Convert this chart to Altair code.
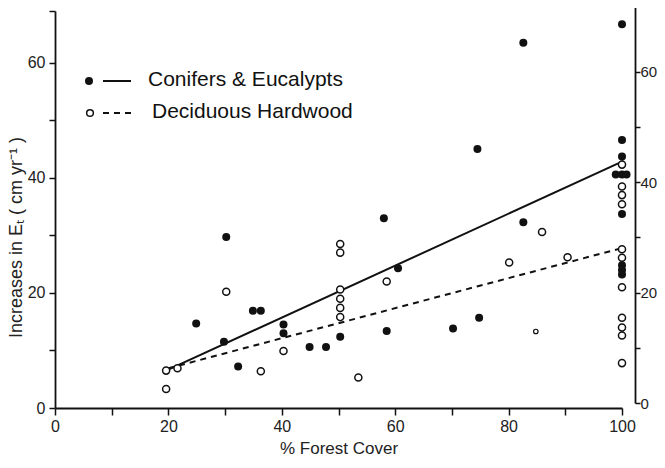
import altair as alt
import pandas as pd

# Conifers & Eucalypts (filled circles)
con_x = [24.9, 29.8, 30.2, 32.3, 34.9, 36.3, 40.3, 40.3, 44.9, 47.8, 50.3, 58.0, 58.5, 60.5,
         70.2, 74.5, 74.8, 82.6, 82.6, 100, 100, 100, 98.9, 100, 100.8, 100, 100, 100, 100]
con_y = [14.7, 11.5, 29.7, 7.2, 16.9, 16.9, 14.5, 13.0, 10.6, 10.6, 12.4, 33.0, 13.4, 24.3,
         13.8, 45.0, 15.7, 32.3, 63.5, 66.7, 46.6, 43.7, 40.6, 40.6, 40.6, 33.7, 24.8, 24.0, 23.2]

# Deciduous Hardwood (open circles)
hw_x = [19.6, 19.6, 21.6, 30.2, 36.3, 40.3, 50.3, 50.3, 50.3, 50.3, 50.3, 50.3, 53.5, 58.5,
        80.1, 85.9, 90.4, 100, 100, 100, 100, 100, 100, 100, 100, 100, 100, 100]
hw_y = [3.3, 6.5, 6.9, 20.2, 6.4, 9.9, 28.5, 27.0, 20.6, 19.0, 17.4, 15.8, 5.3, 22.0,
        25.3, 30.6, 26.2, 42.3, 38.5, 37.0, 35.4, 27.6, 26.1, 21.0, 15.7, 14.0, 12.6, 7.8]
hw_small_x = [84.8]
hw_small_y = [13.3]

# fitted lines (end points)
con_line_x = [19.6, 100.2]
con_line_y = [6.5, 42.9]
hw_line_x = [20.0, 100.0]
hw_line_y = [6.9, 27.8]

legend_labels = ["Conifers & Eucalypts", "Deciduous Hardwood"]

FONT = "Liberation Sans"
INK = "#111111"

x_scale = alt.Scale(domain=[0, 100], nice=False, zero=False)
y_scale = alt.Scale(domain=[0, 69], nice=False, zero=False)

x_axis = alt.Axis(
    values=list(range(0, 101, 10)),
    labelExpr="datum.value % 20 == 0 ? datum.label : ''",
    title="% Forest Cover", grid=False, tickSize=7, labelFlush=False,
    labelOverlap=False, labelPadding=3, titlePadding=6,
)
y_axis = alt.Axis(
    values=[0, 10, 20, 30, 40, 50, 60, 69],
    labelExpr="datum.value % 20 == 0 ? datum.label : ''",
    title="Increases in Eₜ ( cm yr⁻¹ )", grid=False, tickSize=6,
    labelOverlap=False, labelPadding=4, titleX=-30, titleY=226, titleFontSize=18,
)

con_df = pd.DataFrame({"x": con_x, "y": con_y})
hw_df = pd.DataFrame({"x": hw_x, "y": hw_y})
hw_small_df = pd.DataFrame({"x": hw_small_x, "y": hw_small_y})
con_line_df = pd.DataFrame({"x": con_line_x, "y": con_line_y})
hw_line_df = pd.DataFrame({"x": hw_line_x, "y": hw_line_y})

X = alt.X("x:Q", scale=x_scale, axis=x_axis)
Y = alt.Y("y:Q", scale=y_scale, axis=y_axis)
Xn = alt.X("x:Q", scale=x_scale)
Yn = alt.Y("y:Q", scale=y_scale)

con_line = alt.Chart(con_line_df).mark_line(color=INK, strokeWidth=2).encode(x=X, y=Y)
hw_line = alt.Chart(hw_line_df).mark_line(color=INK, strokeWidth=2, strokeDash=[6, 5]).encode(x=Xn, y=Yn)

con_pts = alt.Chart(con_df).mark_point(
    shape="circle", filled=True, color=INK, size=64, opacity=1
).encode(x=Xn, y=Yn)
hw_pts = alt.Chart(hw_df).mark_point(
    shape="circle", filled=False, fill="white", fillOpacity=1, stroke=INK,
    strokeWidth=1.5, size=50, opacity=1
).encode(x=Xn, y=Yn)
hw_small = alt.Chart(hw_small_df).mark_point(
    shape="circle", filled=False, fill="white", fillOpacity=1, stroke=INK,
    strokeWidth=1.2, size=20, opacity=1
).encode(x=Xn, y=Yn)

# legend
leg1 = pd.DataFrame({"t": [legend_labels[0]]})
leg2 = pd.DataFrame({"t": [legend_labels[1]]})
l1_dot = alt.Chart(leg1).mark_point(shape="circle", filled=True, color=INK, size=64, opacity=1).encode(
    x=alt.value(34), y=alt.value(70))
l1_line = alt.Chart(leg1).mark_rule(color=INK, strokeWidth=2).encode(
    x=alt.value(48), x2=alt.value(76), y=alt.value(70))
l1_txt = alt.Chart(leg1).mark_text(align="left", baseline="middle", fontSize=21, font=FONT, color=INK).encode(
    x=alt.value(93), y=alt.value(69), text="t:N")
l2_dot = alt.Chart(leg2).mark_point(shape="circle", filled=False, fill="white", fillOpacity=1, stroke=INK,
                                    strokeWidth=1.5, size=45, opacity=1).encode(
    x=alt.value(35), y=alt.value(102))
l2_line = alt.Chart(leg2).mark_rule(color=INK, strokeWidth=2, strokeDash=[6, 5]).encode(
    x=alt.value(48), x2=alt.value(76), y=alt.value(102))
l2_txt = alt.Chart(leg2).mark_text(align="left", baseline="middle", fontSize=21, font=FONT, color=INK).encode(
    x=alt.value(97), y=alt.value(101), text="t:N")

main = alt.layer(con_line, hw_line, con_pts, hw_pts, hw_small,
                 l1_dot, l1_line, l1_txt, l2_dot, l2_line, l2_txt)

right_axis = alt.Axis(
    orient="right", values=[0, 10, 20, 30, 40, 50, 60, 71.9],
    labelExpr="datum.value % 20 == 0 ? datum.label : ''",
    title=None, grid=False, tickSize=5, offset=13, position=-5,
    labelOverlap=False, labelPadding=0, labelFontSize=15,
)
right = alt.Chart(con_df).mark_point(opacity=0).encode(
    x=Xn,
    y=alt.Y("y:Q", scale=alt.Scale(domain=[0, 71.9], nice=False, zero=False), axis=right_axis),
)

chart = alt.layer(main, right).resolve_scale(y="independent").properties(
    width=567, height=397,
    padding={"left": 47, "top": 3, "right": 35, "bottom": 52},
    autosize=alt.AutoSizeParams(type="none"),
).configure_view(stroke=None).configure_axis(
    domainColor=INK, domainWidth=1.8, tickColor=INK, tickWidth=1.5,
    labelFont=FONT, labelFontSize=16, labelColor="#222222", labelFontWeight="normal",
    titleFont=FONT, titleFontSize=17, titleColor="#222222", titleFontWeight="normal",
)

chart.save("out.html", embed_options={"renderer": "svg", "actions": False})
